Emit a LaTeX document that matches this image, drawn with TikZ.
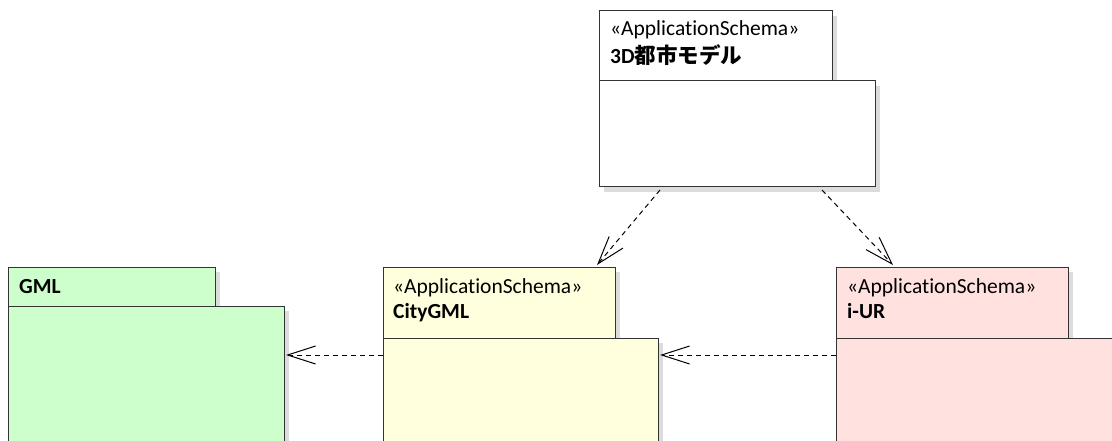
\documentclass[tikz,border=0pt]{standalone}
\usepackage{fontspec}
\setmainfont{Carlito}[Ligatures=NoCommon]
\newfontfamily\jpfont{Noto Sans CJK JP}
\usetikzlibrary{arrows.meta,shadows}
\definecolor{gmlfill}{HTML}{CCFFCC}
\definecolor{cityfill}{HTML}{FFFFDD}
\definecolor{iurfill}{HTML}{FFE2E0}
\definecolor{edge}{HTML}{333333}
\definecolor{shade}{HTML}{DCDCDC}
\begin{document}
\begin{tikzpicture}[x=1pt,y=-1pt,
  pkg/.style={draw=edge, line width=1pt, anchor=north west, inner sep=0pt, outer sep=0pt,
    drop shadow={shadow xshift=5pt, shadow yshift=-5pt, fill=shade, opacity=1}},
  lbl/.style={anchor=base west, inner sep=0pt, font=\fontsize{21.5}{25}\selectfont},
  blbl/.style={lbl, font=\fontsize{21.5}{25}\selectfont\bfseries},
  dep/.style={draw=black, line width=1pt, dash pattern=on 5pt off 4pt,
    -{Straight Barb[length=28pt, width=18pt, line width=1pt]}}]
\useasboundingbox (0,0) rectangle (1112,441);
\clip (0,0) rectangle (1112,441);
\fill[white] (0,0) rectangle (1112,441);

% 3D city model (top)
\node[pkg, fill=white, minimum width=233pt, minimum height=70pt] (toptab) at (599,11) {};
\node[pkg, fill=white, minimum width=276pt, minimum height=106pt] (topbody) at (599,81) {};
\node[lbl] (topst) at (610,36) {«ApplicationSchema»};
\node[blbl] (topname) at (610,64) {3D{\jpfont\bfseries 都市モデル}};

% GML
\node[pkg, fill=gmlfill, minimum width=207pt, minimum height=39pt] (gmltab) at (8,267) {};
\node[pkg, fill=gmlfill, minimum width=276pt, minimum height=160pt] (gmlbody) at (8,306) {};
\node[blbl] (gmlname) at (19,293) {GML};

% CityGML
\node[pkg, fill=cityfill, minimum width=232pt, minimum height=71pt] (citytab) at (383,267) {};
\node[pkg, fill=cityfill, minimum width=275pt, minimum height=130pt] (citybody) at (383,338) {};
\node[lbl] (cityst) at (393,293) {«ApplicationSchema»};
\node[blbl] (cityname) at (393,318) {CityGML};

% i-UR
\node[pkg, fill=iurfill, minimum width=232pt, minimum height=71pt] (iurtab) at (836,267) {};
\node[pkg, fill=iurfill, minimum width=290pt, minimum height=130pt] (iurbody) at (836,338) {};
\node[lbl] (iurst) at (847,293) {«ApplicationSchema»};
\node[blbl] (iurname) at (847,318) {i-UR};

% connector ends
\coordinate (topL) at (660,190);
\coordinate (topR) at (822,190);
\coordinate (cityIn) at (597,265);
\coordinate (iurIn) at (893,265);
\coordinate (cityOut) at (383,355);
\coordinate (gmlIn) at (286,355);
\coordinate (iurOut) at (836,355);
\coordinate (cityIn2) at (660,355);

\draw[dep] (topL) -- (cityIn);
\draw[dep] (topR) -- (iurIn);
\draw[dep] (cityOut) -- (gmlIn);
\draw[dep] (iurOut) -- (cityIn2);
\end{tikzpicture}
\end{document}
